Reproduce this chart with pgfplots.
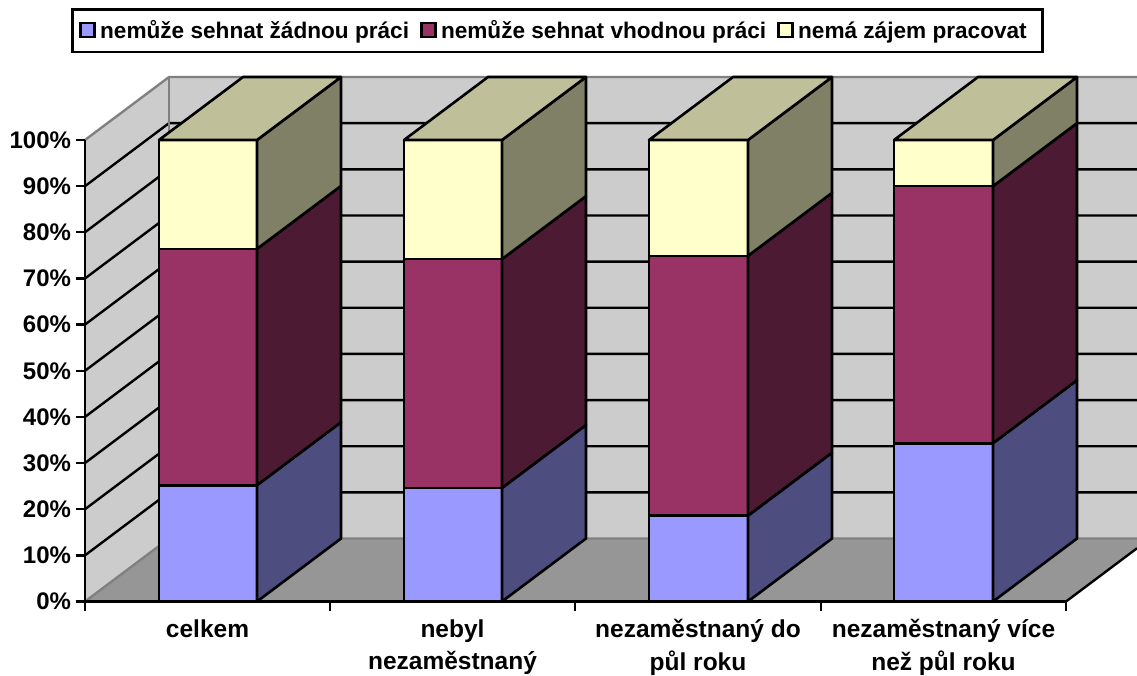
\documentclass[border=0pt]{standalone}
\usepackage{pgfplots}
\usepackage{fontspec}
\setmainfont{Liberation Sans}
\pgfplotsset{compat=1.18}
\definecolor{cA}{HTML}{9999FF}\definecolor{cAs}{HTML}{4D4D80}
\definecolor{cB}{HTML}{993366}\definecolor{cBs}{HTML}{4D1A33}
\definecolor{cC}{HTML}{FFFFCC}\definecolor{cCs}{HTML}{808066}\definecolor{cCt}{HTML}{BFBF99}
\definecolor{wallc}{HTML}{CCCCCC}\definecolor{floorc}{HTML}{969696}\definecolor{edgec}{HTML}{808080}
\newcommand{\seg}[6]{% xl, xr, lo, hi, front, side
  \pgfmathsetmacro{\xs}{#2+84}\pgfmathsetmacro{\lob}{#3+13.65}\pgfmathsetmacro{\hib}{#4+13.65}
  \addplot[fill=#5,draw=black,line width=2.6pt,line join=round] coordinates {(#1,#3)(#2,#3)(#2,#4)(#1,#4)} --cycle;
  \addplot[fill=#6,draw=black,line width=2.6pt,line join=round] coordinates {(#2,#3)(\xs,\lob)(\xs,\hib)(#2,#4)} --cycle;
}
\newcommand{\topf}[2]{%
  \pgfmathsetmacro{\xsa}{#1+84}\pgfmathsetmacro{\xsb}{#2+84}
  \addplot[fill=cCt,draw=black,line width=2.6pt,line join=round] coordinates {(#1,100)(#2,100)(\xsb,113.65)(\xsa,113.65)} --cycle;
}
\newcommand{\onebar}[4]{% xl, xr, a, a+b
  \seg{#1}{#2}{0}{#3}{cA}{cAs}
  \seg{#1}{#2}{#3}{#4}{cB}{cBs}
  \seg{#1}{#2}{#4}{100}{cC}{cCs}
  \topf{#1}{#2}
}
\begin{document}
\begin{tikzpicture}[x=1pt,y=1pt]
\path[use as bounding box] (0,0) rectangle (1137,675);
\begin{axis}[
  at={(85pt,73.5pt)},anchor=south west,
  scale only axis,width=981pt,height=461.5pt,
  xmin=85,xmax=1066,ymin=0,ymax=100,clip=false,
  axis lines=left,axis line style={-,line width=2.6pt,black},
  axis on top,
  tick align=outside,major tick length=9.5pt,
  every tick/.style={black,line width=2.4pt},
  xtick={85,330,575,821,1066},
  x tick label as interval,
  xticklabels={celkem,nebyl\\nezaměstnaný,nezaměstnaný do\\půl roku,nezaměstnaný více\\než půl roku},
  x tick label style={align=center,anchor=north,yshift=-5pt,font=\fontsize{24.5}{32.5}\selectfont\bfseries},
  ytick={0,10,...,100},
  yticklabel={\pgfmathprintnumber{\tick}\%},
  /pgf/number format/assume math mode=true,
  y tick label style={font=\fontsize{24}{26}\selectfont\bfseries,xshift=-1pt},
  legend columns=3,
  legend cell align=left,
  legend style={at={(-0.0143,1.2860)},anchor=north west,draw=black,line width=2.6pt,
    inner xsep=7pt,inner ysep=9.5pt,
    font=\fontsize{22.6}{26}\selectfont\bfseries,
    /tikz/every even column/.append style={column sep=9pt},
    /tikz/every odd column/.append style={column sep=2.5pt}},
  legend image code/.code={\draw[#1,line width=2.4pt] (0pt,-6.5pt) rectangle (14pt,7.5pt);},
]
\addlegendimage{fill=cA,draw=black}
\addlegendimage{fill=cB,draw=black}
\addlegendimage{fill=cC,draw=black}
% walls and floor
\addplot[fill=wallc,draw=none] coordinates {(169,13.65)(1137,13.65)(1137,113.65)(169,113.65)} --cycle;
\addplot[fill=wallc,draw=none] coordinates {(85,0)(169,13.65)(169,113.65)(85,100)} --cycle;
\addplot[fill=floorc,draw=none] coordinates {(85,0)(1066,0)(1137,11.54)(1137,13.65)(169,13.65)} --cycle;
% grid lines
\pgfplotsinvokeforeach{10,20,30,40,50,60,70,80,90}{
  \addplot[black,line width=2.4pt] coordinates {(85,#1)(169,#1+13.65)(1137,#1+13.65)};
}
\addplot[edgec,line width=2.4pt] coordinates {(85,100)(169,113.65)(1137,113.65)};
\addplot[edgec,line width=2.4pt] coordinates {(85,0)(169,13.65)(1137,13.65)};
\addplot[edgec,line width=2.4pt] coordinates {(169,13.65)(169,113.65)};
\addplot[black,line width=2.4pt] coordinates {(1066,0)(1137,11.54)};
% bars
\onebar{159}{257}{25.2}{76.4}
\onebar{404}{502}{24.6}{74.2}
\onebar{649}{748}{18.6}{74.9}
\onebar{894}{993}{34.3}{90.0}
\legend{nemůže sehnat žádnou práci,nemůže sehnat vhodnou práci,nemá zájem pracovat\hspace*{7pt}}
\end{axis}
\end{tikzpicture}
\end{document}
